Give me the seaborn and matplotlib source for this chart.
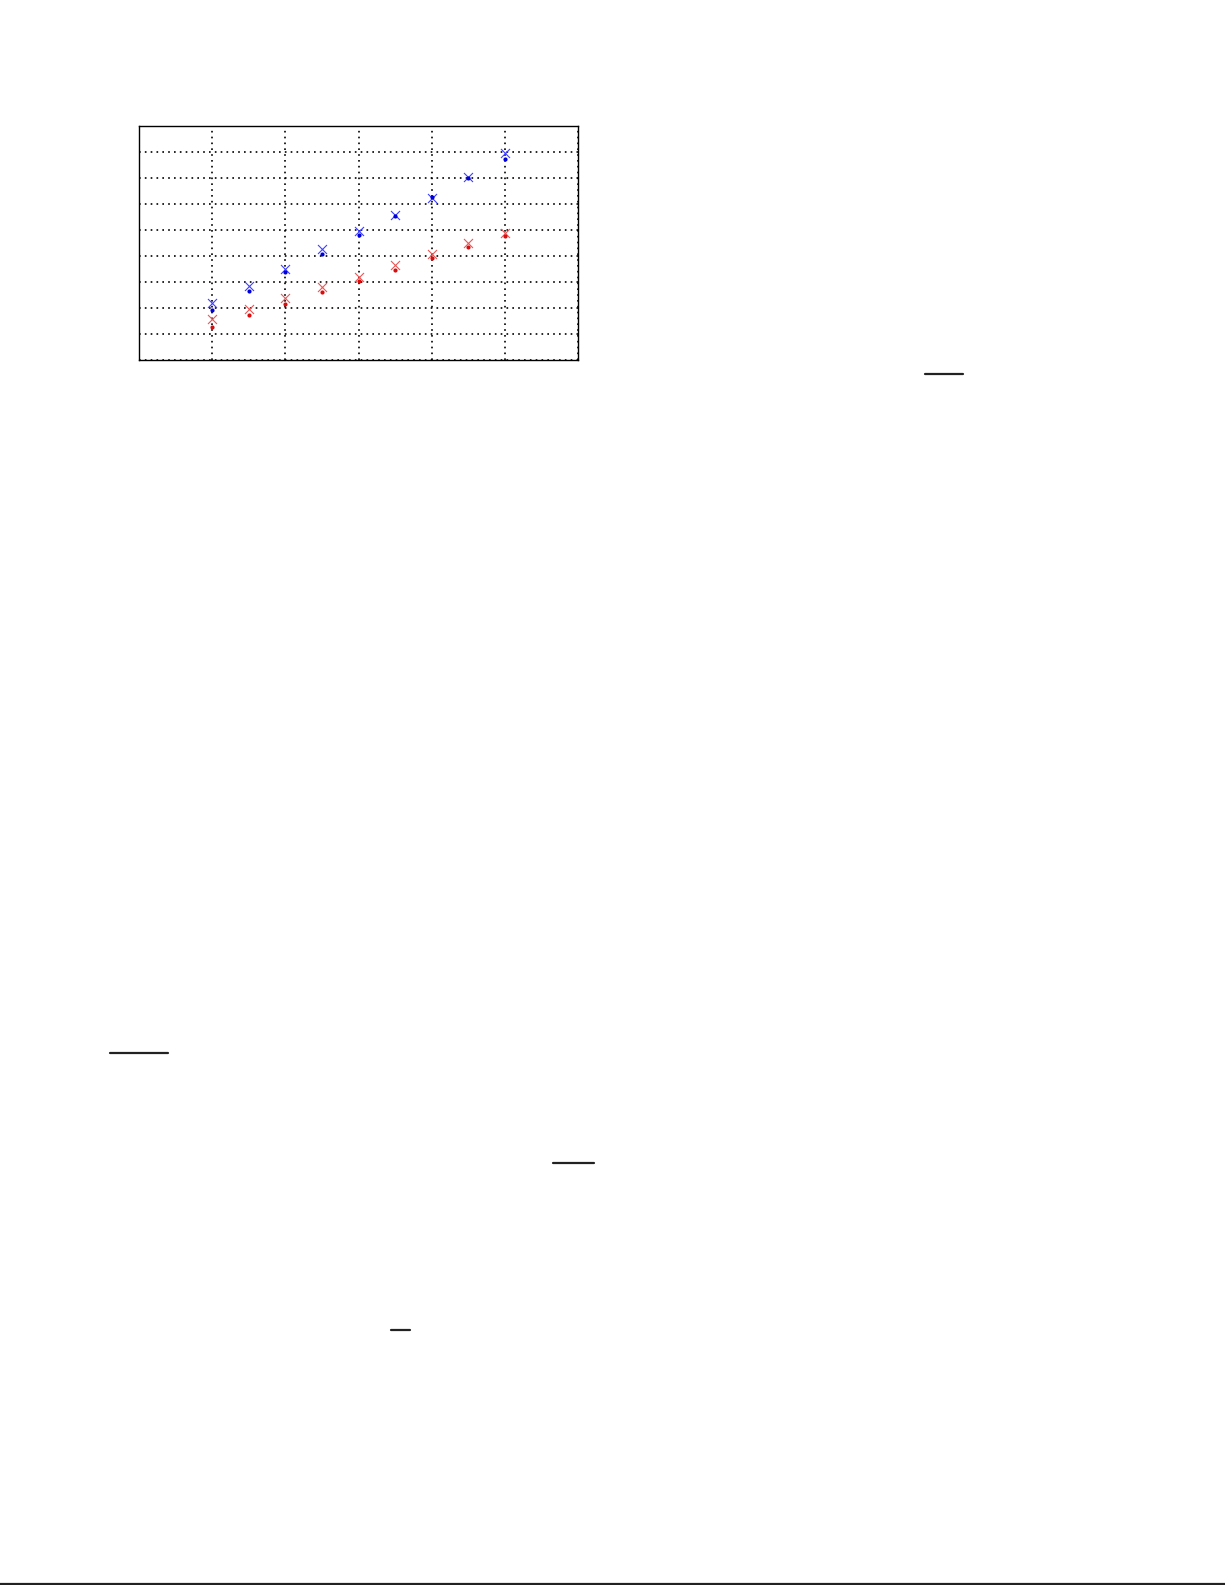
import numpy as np
import pandas as pd
import matplotlib
matplotlib.use("Agg")
import matplotlib.pyplot as plt
from matplotlib.lines import Line2D
import seaborn as sns

# values
x_vals = [1.0, 1.5, 2.0, 2.5, 3.0, 3.5, 4.0, 4.5, 5.0]
blue_dot = [1.94, 2.65, 3.37, 4.09, 4.79, 5.55, 6.26, 7.01, 7.74]
blue_cross = [2.18, 2.83, 3.51, 4.27, 4.95, 5.56, 6.24, 7.04, 7.95]
red_dot = [1.28, 1.72, 2.15, 2.60, 3.04, 3.47, 3.91, 4.33, 4.77]
red_cross = [1.56, 1.96, 2.37, 2.81, 3.21, 3.65, 4.08, 4.49, 4.90]

x_ticks = [0, 1, 2, 3, 4, 5, 6]
y_ticks = [0, 1, 2, 3, 4, 5, 6, 7, 8, 9]

df = pd.DataFrame({
    "x": x_vals,
    "blue_dot": blue_dot,
    "blue_cross": blue_cross,
    "red_dot": red_dot,
    "red_cross": red_cross,
})

sns.set_style("white")

fig = plt.figure(figsize=(12.25, 15.85), dpi=100)
W, H = 1225, 1585
# axes box in pixels: left 139, right 578, top 126, bottom 360
ax = fig.add_axes([139 / W, 1 - 360 / H, (578 - 139) / W, (360 - 126) / H])

# crosses (thin, lighter) then dots on top
sns.scatterplot(data=df, x="x", y="blue_cross", marker="x", color=(0.25, 0.25, 1.0),
                s=42, linewidth=0.8, ax=ax, zorder=3)
sns.scatterplot(data=df, x="x", y="red_cross", marker="x", color=(0.9, 0.35, 0.35),
                s=42, linewidth=0.8, ax=ax, zorder=3)
sns.scatterplot(data=df, x="x", y="blue_dot", marker="o", color=(0.0, 0.0, 0.85),
                s=9, linewidth=0, ax=ax, zorder=4)
sns.scatterplot(data=df, x="x", y="red_dot", marker="o", color=(0.85, 0.05, 0.05),
                s=9, linewidth=0, ax=ax, zorder=4)

ax.set_xlim(x_ticks[0], x_ticks[-1])
ax.set_ylim(y_ticks[0], y_ticks[-1])
ax.set_xticks(x_ticks)
ax.set_yticks(y_ticks)
ax.set_xticklabels([])
ax.set_yticklabels([])
ax.set_xlabel("")
ax.set_ylabel("")
ax.tick_params(direction="in", length=4, width=0.8, color="black")
ax.grid(True, linestyle=(0, (1, 2.5)), color="black", linewidth=1.2)
for sp in ax.spines.values():
    sp.set_visible(True)
    sp.set_color("black")
    sp.set_linewidth(1.0)

# leftover rules on the page (fraction bars and bottom edge), in pixel coords
rules = [
    ((925, 963), 374),
    ((110, 168), 1053),
    ((553, 594), 1163),
    ((391, 410), 1330),
    ((0, 1225), 1584),
]
for (x0, x1), y in rules:
    fig.add_artist(Line2D([x0 / W, x1 / W], [1 - y / H, 1 - y / H],
                          transform=fig.transFigure, color="#222222", linewidth=1.6))

fig.savefig("out.png", dpi=100, facecolor="white")
